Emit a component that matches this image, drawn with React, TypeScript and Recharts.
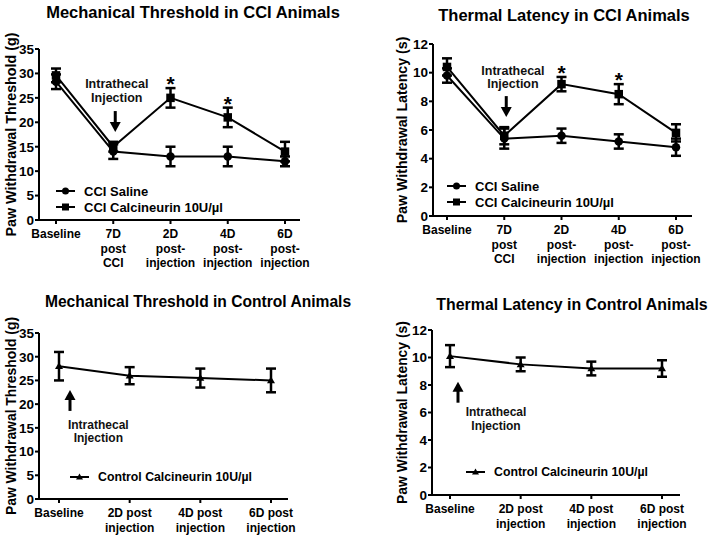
import React from "react";
import { ErrorBar, Legend, Line, LineChart, ReferenceDot, XAxis, YAxis } from "recharts";

const FONT = "'Liberation Sans', Arial, sans-serif";

const cciCategories = ["Baseline", "7D\npost\nCCI", "2D\npost-\ninjection", "4D\npost-\ninjection", "6D\npost-\ninjection"];
const controlCategories = ["Baseline", "2D post\ninjection", "4D post\ninjection", "6D post\ninjection"];

const mechSaline = [28.3, 14, 13, 13, 12];
const mechSalineErr = [1.5, 1.5, 2, 2, 1];
const mechCalcineurin = [29.6, 15, 25, 21, 14];
const mechCalcineurinErr = [1.4, 1, 2, 2, 2];

const thermSaline = [9.8, 5.4, 5.6, 5.2, 4.8];
const thermSalineErr = [0.5, 0.7, 0.5, 0.5, 0.6];
const thermCalcineurin = [10.4, 5.6, 9.2, 8.5, 5.8];
const thermCalcineurinErr = [0.6, 0.6, 0.5, 0.7, 0.6];

// asterisks over the calcineurin series
const significant = [false, false, true, true, false];

const controlMech = [28, 26, 25.5, 25];
const controlMechErr = [3, 1.8, 2, 2.5];
const controlTherm = [10.1, 9.5, 9.2, 9.2];
const controlThermErr = [0.8, 0.5, 0.5, 0.6];

const mechTicks = [0, 5, 10, 15, 20, 25, 30, 35];
const thermTicks = [0, 2, 4, 6, 8, 10, 12];

type Marker = "circle" | "square" | "triangle";
type Series = { key: string; name: string; values: number[]; errors: number[]; marker: Marker };

function markerShape(marker: Marker, cx: number, cy: number, size: number, key?: string) {
  const h = size / 2;
  if (marker === "circle") return <circle key={key} cx={cx} cy={cy} r={h} fill="#000" />;
  if (marker === "square") return <rect key={key} x={cx - h} y={cy - h} width={size} height={size} fill="#000" />;
  return <path key={key} d={`M${cx},${cy - h}L${cx + h},${cy + h * 0.7}L${cx - h},${cy + h * 0.7}Z`} fill="#000" />;
}

function CategoryTick(props: any) {
  const { x, y, payload } = props;
  const lines = String(payload.value).split("\n");
  return (
    <text x={x} y={y + 12} textAnchor="middle" fontSize={12} fontWeight="bold" fill="#000" fontFamily={FONT}>
      {lines.map((l, i) => (
        <tspan key={i} x={x} dy={i === 0 ? 0 : 14.5}>
          {l}
        </tspan>
      ))}
    </text>
  );
}

function InjectionArrow(props: any) {
  const { cx, cy, dir, dx, textDx, textDys, fontSize } = props;
  const x = cx + dx;
  const s = dir === "down" ? -1 : 1;
  return (
    <g>
      <line x1={x} y1={cy + s * 9} x2={x} y2={cy + s * 21} stroke="#000" strokeWidth={3} />
      <path d={`M${x},${cy}L${x - 5.5},${cy + s * 10}L${x + 5.5},${cy + s * 10}Z`} fill="#000" />
      <text textAnchor="middle" fontSize={fontSize} fontWeight="bold" fill="#111" fontFamily={FONT}>
        <tspan x={cx + textDx} y={cy + textDys[0]}>Intrathecal</tspan>
        <tspan x={cx + textDx} y={cy + textDys[1]}>Injection</tspan>
      </text>
    </g>
  );
}

function LegendBox({ series, fontSize }: { series: Series[]; fontSize: number }) {
  return (
    <div style={{ fontFamily: FONT, fontSize, fontWeight: "bold", color: "#000" }}>
      {series.map((s) => (
        <div key={s.key} style={{ display: "flex", alignItems: "center", height: 16 }}>
          <svg width={19} height={10} style={{ marginRight: 9 }}>
            <line x1={0} y1={5} x2={19} y2={5} stroke="#000" strokeWidth={2} />
            {markerShape(s.marker, 9.5, 5, 7)}
          </svg>
          <span style={{ whiteSpace: "nowrap" }}>{s.name}</span>
        </div>
      ))}
    </div>
  );
}

type PanelProps = {
  left: number;
  top: number;
  width: number;
  height: number;
  margin: { top: number; right: number; bottom: number; left: number };
  yAxisWidth: number;
  xAxisHeight: number;
  padding: { left: number; right: number };
  title: string;
  titleX: number;
  titleY: number;
  titleSize: number;
  yLabel: string;
  yLabelX: number;
  yLabelSize: number;
  ticks: number[];
  categories: string[];
  series: Series[];
  stars?: boolean[];
  arrow: { index: number; value: number; dir: "up" | "down"; dx: number; textDx: number; textDys: number[]; fontSize: number };
  legend: { left: number; top: number; fontSize: number };
};

function Panel(p: PanelProps) {
  const data = p.categories.map((cat, i) => {
    const row: Record<string, string | number> = { cat };
    p.series.forEach((s) => {
      row[s.key] = s.values[i];
      row[s.key + "Err"] = s.errors[i];
    });
    return row;
  });
  const starSeries = p.series[p.series.length - 1];
  const axisStyle = { stroke: "#000", strokeWidth: 2 };
  return (
    <>
      <div
        style={{
          position: "absolute",
          left: p.titleX - 200,
          top: p.titleY - 10,
          width: 400,
          textAlign: "center",
          fontFamily: FONT,
          fontWeight: "bold",
          fontSize: p.titleSize,
          lineHeight: "20px",
          color: "#000",
        }}
      >
        {p.title}
      </div>
      <div style={{ position: "absolute", left: p.left, top: p.top, fontFamily: FONT }}>
        <LineChart width={p.width} height={p.height} data={data} margin={p.margin}>
          <XAxis
            dataKey="cat"
            type="category"
            interval={0}
            height={p.xAxisHeight}
            padding={p.padding}
            axisLine={axisStyle}
            tickLine={axisStyle}
            tickSize={4}
            tick={<CategoryTick />}
          />
          <YAxis
            type="number"
            domain={[0, p.ticks[p.ticks.length - 1]]}
            ticks={p.ticks}
            interval={0}
            width={p.yAxisWidth}
            axisLine={axisStyle}
            tickLine={axisStyle}
            tickSize={4}
            tickMargin={1}
            tick={{ fill: "#000", fontSize: 13.5, fontWeight: "bold", fontFamily: FONT }}
            label={{
              content: (lp: any) => {
                const vb = lp.viewBox;
                const cy = vb.y + vb.height / 2;
                return (
                  <text
                    transform={`translate(${p.yLabelX},${cy}) rotate(-90)`}
                    textAnchor="middle"
                    dominantBaseline="central"
                    fontSize={p.yLabelSize}
                    fontWeight="bold"
                    fill="#000"
                    fontFamily={FONT}
                  >
                    {p.yLabel}
                  </text>
                );
              },
            }}
          />
          {p.series.map((s) => (
            <Line
              key={s.key}
              dataKey={s.key}
              name={s.name}
              stroke="#000"
              strokeWidth={2}
              isAnimationActive={false}
              dot={(dp: any) => markerShape(s.marker, dp.cx, dp.cy, s.marker === "triangle" ? 8 : 8.5, `${s.key}-${dp.index}`)}
              activeDot={false}
            >
              <ErrorBar dataKey={s.key + "Err"} width={5} strokeWidth={2.5} stroke="#000" direction="y" />
            </Line>
          ))}
          {p.stars &&
            p.stars.map((on, i) =>
              on ? (
                <ReferenceDot
                  key={`star-${i}`}
                  x={p.categories[i]}
                  y={starSeries.values[i] + starSeries.errors[i]}
                  r={0}
                  shape={(sp: any) => (
                    <text x={sp.cx} y={sp.cy + 3} textAnchor="middle" fontSize={21} fontWeight="bold" fill="#000" fontFamily={FONT}>
                      *
                    </text>
                  )}
                />
              ) : null
            )}
          <ReferenceDot
            x={p.categories[p.arrow.index]}
            y={p.arrow.value}
            r={0}
            shape={(sp: any) => <InjectionArrow cx={sp.cx} cy={sp.cy} {...p.arrow} />}
          />
          <Legend
            layout="horizontal"
            verticalAlign="middle"
            align="center"
            wrapperStyle={{ left: p.legend.left, top: p.legend.top, width: 260, height: p.series.length * 16 }}
            content={() => <LegendBox series={p.series} fontSize={p.legend.fontSize} />}
          />
        </LineChart>
      </div>
    </>
  );
}

const cciMechSeries: Series[] = [
  { key: "saline", name: "CCI Saline", values: mechSaline, errors: mechSalineErr, marker: "circle" },
  { key: "calc", name: "CCI Calcineurin 10U/\u00b5l", values: mechCalcineurin, errors: mechCalcineurinErr, marker: "square" },
];
const cciThermSeries: Series[] = [
  { key: "saline", name: "CCI Saline", values: thermSaline, errors: thermSalineErr, marker: "circle" },
  { key: "calc", name: "CCI Calcineurin 10U/\u00b5l", values: thermCalcineurin, errors: thermCalcineurinErr, marker: "square" },
];
const ctlMechSeries: Series[] = [
  { key: "ctl", name: "Control Calcineurin 10U/\u00b5l", values: controlMech, errors: controlMechErr, marker: "triangle" },
];
const ctlThermSeries: Series[] = [
  { key: "ctl", name: "Control Calcineurin 10U/\u00b5l", values: controlTherm, errors: controlThermErr, marker: "triangle" },
];

export default function App() {
  return (
    <div style={{ position: "absolute", left: 0, top: 0, width: 714, height: 537, background: "#fff", overflow: "hidden" }}>
      <Panel
        left={0}
        top={0}
        width={340}
        height={275}
        margin={{ top: 49, right: 40, bottom: 0, left: 0 }}
        yAxisWidth={39}
        xAxisHeight={55}
        padding={{ left: 17, right: 15 }}
        title="Mechanical Threshold in CCI Animals"
        titleX={193}
        titleY={12}
        titleSize={16.5}
        yLabel="Paw Withdrawal Threshold (g)"
        yLabelX={11}
        yLabelSize={14.3}
        ticks={mechTicks}
        categories={cciCategories}
        series={cciMechSeries}
        stars={significant}
        arrow={{ index: 1, value: 18, dir: "down", dx: 2, textDx: 3.5, textDys: [-44.5, -30.5], fontSize: 12.5 }}
        legend={{ left: 56, top: 183, fontSize: 13 }}
      />
      <Panel
        left={360}
        top={0}
        width={354}
        height={275}
        margin={{ top: 44, right: 22, bottom: 0, left: 33 }}
        yAxisWidth={40}
        xAxisHeight={59}
        padding={{ left: 14, right: 16 }}
        title="Thermal Latency in CCI Animals"
        titleX={564}
        titleY={15}
        titleSize={16.5}
        yLabel="Paw Withdrawal Latency (s)"
        yLabelX={42}
        yLabelSize={14.2}
        ticks={thermTicks}
        categories={cciCategories}
        series={cciThermSeries}
        stars={significant}
        arrow={{ index: 1, value: 6.9, dir: "down", dx: 2, textDx: 8.7, textDys: [-42, -29], fontSize: 12.5 }}
        legend={{ left: 87, top: 178, fontSize: 13 }}
      />
      <Panel
        left={0}
        top={280}
        width={340}
        height={257}
        margin={{ top: 53, right: 52, bottom: 0, left: 0 }}
        yAxisWidth={39}
        xAxisHeight={38}
        padding={{ left: 20, right: 17 }}
        title="Mechanical Threshold in Control Animals"
        titleX={198}
        titleY={302}
        titleSize={15.6}
        yLabel="Paw Withdrawal Threshold (g)"
        yLabelX={11}
        yLabelSize={13.9}
        ticks={mechTicks}
        categories={controlCategories}
        series={ctlMechSeries}
        arrow={{ index: 0, value: 23, dir: "up", dx: 11, textDx: 39.3, textDys: [39.5, 52.5], fontSize: 12 }}
        legend={{ left: 70, top: 189, fontSize: 12.3 }}
      />
      <Panel
        left={360}
        top={280}
        width={354}
        height={257}
        margin={{ top: 50, right: 34, bottom: 0, left: 32 }}
        yAxisWidth={40}
        xAxisHeight={42}
        padding={{ left: 18, right: 18 }}
        title="Thermal Latency in Control Animals"
        titleX={572}
        titleY={305}
        titleSize={15.9}
        yLabel="Paw Withdrawal Latency (s)"
        yLabelX={42}
        yLabelSize={13.9}
        ticks={thermTicks}
        categories={controlCategories}
        series={ctlThermSeries}
        arrow={{ index: 0, value: 8.24, dir: "up", dx: 8, textDx: 46, textDys: [34.5, 48], fontSize: 12 }}
        legend={{ left: 106, top: 184, fontSize: 12.3 }}
      />
    </div>
  );
}
